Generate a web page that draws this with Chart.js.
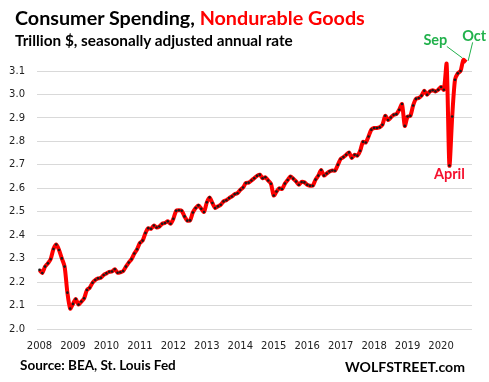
<!DOCTYPE html>
<html>
<head>
<meta charset="utf-8">
<script src="https://cdn.jsdelivr.net/npm/chart.js@4/dist/chart.umd.min.js"></script>
<style>
  html, body { margin:0; padding:0; background:#fff; }
  #wrap { position:relative; width:489px; height:382px; overflow:hidden; }
  canvas { position:absolute; left:0; top:0; }
  .t { position:absolute; white-space:nowrap; font-family: Lato, "Open Sans", sans-serif; font-weight:700; line-height:1; color:#000; }
</style>
</head>
<body>
<div id="wrap">
  <canvas id="c" width="489" height="382"></canvas>
  <div class="t" id="title" style="font-size:19px;">Consumer Spending, <span style="color:#FF0000">Nondurable Goods</span></div>
  <div class="t" id="sub" style="font-size:15px;">Trillion $, seasonally adjusted annual rate</div>
  <div class="t" id="src" style="font-size:14px;">Source: BEA, St. Louis Fed</div>
  <div class="t" id="wolf" style="font-size:15px;">WOLFSTREET.com</div>
</div>
<script>
// ---- data (trillion $, monthly, Jan 2008 – Oct 2020) ----
const yearLabels = ['2008','2009','2010','2011','2012','2013','2014','2015','2016','2017','2018','2019','2020'];
const v2008 = [2.252, 2.239, 2.266, 2.280, 2.298, 2.341, 2.360, 2.337, 2.301, 2.266, 2.155, 2.087];
const v2009 = [2.107, 2.128, 2.104, 2.117, 2.131, 2.166, 2.176, 2.197, 2.209, 2.216, 2.218, 2.230];
const v2010 = [2.237, 2.244, 2.245, 2.255, 2.240, 2.242, 2.247, 2.266, 2.283, 2.298, 2.322, 2.340];
const v2011 = [2.367, 2.377, 2.409, 2.430, 2.427, 2.441, 2.433, 2.437, 2.449, 2.452, 2.459, 2.449];
const v2012 = [2.470, 2.504, 2.506, 2.504, 2.480, 2.462, 2.463, 2.497, 2.516, 2.527, 2.513, 2.499];
const v2013 = [2.540, 2.561, 2.537, 2.516, 2.523, 2.530, 2.544, 2.549, 2.558, 2.565, 2.575, 2.579];
const v2014 = [2.593, 2.603, 2.622, 2.624, 2.633, 2.643, 2.653, 2.658, 2.643, 2.647, 2.633, 2.619];
const v2015 = [2.569, 2.586, 2.600, 2.597, 2.620, 2.635, 2.650, 2.641, 2.629, 2.615, 2.627, 2.625];
const v2016 = [2.615, 2.611, 2.611, 2.637, 2.654, 2.678, 2.654, 2.663, 2.672, 2.676, 2.675, 2.700];
const v2017 = [2.725, 2.733, 2.743, 2.753, 2.729, 2.743, 2.739, 2.760, 2.798, 2.795, 2.821, 2.850];
const v2018 = [2.857, 2.857, 2.860, 2.871, 2.909, 2.891, 2.902, 2.913, 2.916, 2.935, 2.959, 2.866];
const v2019 = [2.906, 2.909, 2.953, 2.981, 2.985, 2.995, 3.016, 2.999, 3.013, 3.018, 3.013, 3.020];
const v2020 = [3.032, 3.020, 3.130, 2.697, 2.906, 3.063, 3.090, 3.100, 3.147, 3.137];
const yMin = 2.0, yMax = 3.1, yStep = 0.1;
const callouts = [
  { idx: 147, text: 'April' },
  { idx: 152, text: 'Sep' },
  { idx: 153, text: 'Oct' }
];

const values = [].concat(v2008, v2009, v2010, v2011, v2012, v2013, v2014, v2015, v2016, v2017, v2018, v2019, v2020);
const points = values.map((v, i) => ({ x: i, y: v }));

const calloutPlugin = {
  id: 'callouts',
  afterDatasetsDraw(chart) {
    const ctx = chart.ctx;
    const meta = chart.getDatasetMeta(0);
    ctx.save();
    ctx.font = 'bold 14.5px Lato, sans-serif';
    ctx.textAlign = 'center';
    ctx.textBaseline = 'alphabetic';
    // April
    const pa = meta.data[callouts[0].idx];
    ctx.fillStyle = '#F5102E';
    ctx.fillText(callouts[0].text, pa.x, pa.y + 13.5);
    // Sep
    const ps = meta.data[callouts[1].idx];
    ctx.fillStyle = '#22B14C';
    ctx.fillText(callouts[1].text, ps.x - 28, ps.y - 15);
    ctx.strokeStyle = '#22B14C';
    ctx.lineWidth = 1;
    ctx.beginPath();
    ctx.moveTo(ps.x - 16.5, ps.y - 13.5);
    ctx.lineTo(ps.x - 1, ps.y - 2);
    ctx.stroke();
    // Oct
    const po = meta.data[callouts[2].idx];
    ctx.fillText(callouts[2].text, po.x + 8, po.y - 21.5);
    ctx.beginPath();
    ctx.moveTo(po.x + 6.5, po.y - 20);
    ctx.lineTo(po.x + 2, po.y - 1.5);
    ctx.stroke();
    ctx.restore();
  }
};

new Chart(document.getElementById('c'), {
  type: 'line',
  data: {
    datasets: [{
      data: points,
      borderColor: '#FF0000',
      borderWidth: 4,
      pointRadius: 1.3,
      pointBorderWidth: 0,
      pointBackgroundColor: '#1a1a1a',
      tension: 0.25,
      clip: false
    }]
  },
  options: {
    responsive: false,
    animation: false,
    devicePixelRatio: 1,
    layout: { padding: { top: 71, right: 17, bottom: 0, left: 0 } },
    plugins: { legend: { display: false }, tooltip: { enabled: false }, title: { display: false } },
    scales: {
      x: {
        type: 'linear',
        min: -0.9,
        max: 155.1,
        afterBuildTicks(scale) { scale.ticks = yearLabels.map((_, k) => ({ value: k * 12 })); },
        afterFit(scale) { scale.height = 53; },
        ticks: {
          autoSkip: false, maxRotation: 0, padding: 11,
          color: '#222', font: { family: 'DejaVu Sans', size: 10 },
          callback: (v) => yearLabels[Math.round(v / 12)]
        },
        grid: { display: false, drawTicks: false },
        border: { display: false }
      },
      y: {
        min: yMin, max: yMax,
        afterFit(scale) { scale.width = 37; },
        ticks: {
          stepSize: yStep, padding: 12,
          color: '#222', font: { family: 'DejaVu Sans', size: 10 },
          callback: (v) => Number(v).toFixed(1)
        },
        grid: { color: '#d9d9d9', lineWidth: 1, drawTicks: false },
        border: { display: false }
      }
    }
  },
  plugins: [calloutPlugin]
});

// place HTML texts: fit width and baseline
function place(id, x, baseline, targetW) {
  const el = document.getElementById(id);
  el.style.left = x + 'px';
  el.style.top = '0px';
  const w = el.getBoundingClientRect().width;
  const fs = parseFloat(getComputedStyle(el).fontSize) * targetW / w;
  el.style.fontSize = fs + 'px';
  const m = document.createElement('span');
  m.style.display = 'inline-block'; m.style.width = '0'; m.style.height = '0';
  el.appendChild(m);
  const b = m.getBoundingClientRect().top - el.getBoundingClientRect().top;
  el.style.top = (baseline - b) + 'px';
}
place('title', 15, 25, 350);
place('sub', 15, 45.5, 278);
place('src', 20, 370, 156);
place('wolf', 345, 371.5, 120);
</script>
</body>
</html>
